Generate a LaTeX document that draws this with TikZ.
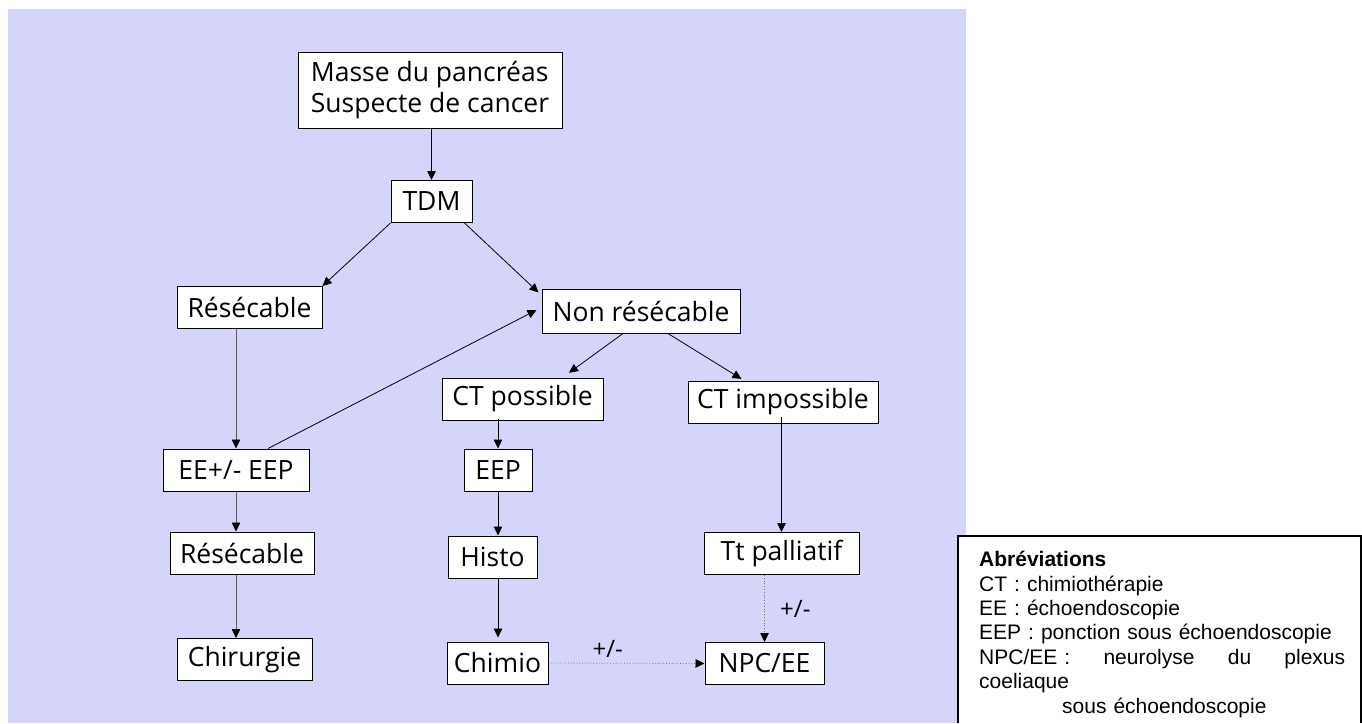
\documentclass[tikz,border=0pt]{standalone}
\usepackage{fontspec}
\usepackage{tikz}
\usetikzlibrary{arrows.meta}
\setmainfont{Open Sans}
\newfontfamily\arialfont{Liberation Sans}
\definecolor{lavande}{HTML}{D5D5FC}
\newcommand{\boxfont}{\fontsize{26.5}{31}\selectfont}
\newcommand{\signfont}{\fontsize{24}{28}\selectfont}
\newcommand{\legendtext}{\fontsize{21}{24.4}\selectfont\arialfont}
\tikzset{
  boite/.style={draw, fill=white, line width=1pt, inner sep=3pt,
                font=\boxfont, minimum height=42pt},
  fleche/.style={-{Triangle[length=9pt,width=8.5pt,color=black]}, line width=0.8pt},
  fine/.style={fleche, draw=black!65},
  pointille/.style={fleche, dotted, draw=black!55},
}

\begin{document}
\begin{tikzpicture}[x=1pt, y=-1pt]
\useasboundingbox (0,0) rectangle (1362,723);
\fill[lavande] (8,9) rectangle (966,723);

\node[boite, minimum width=264pt, minimum height=76pt, align=left] (masse) at (430,90)
  {Masse du pancréas\\Suspecte de cancer};
\node[boite, minimum width=81pt] (tdm) at (431.5,201.5) {TDM};
\node[boite, minimum width=145pt] (res1) at (249.5,307.5) {Résécable};
\node[boite, minimum width=198pt, minimum height=44pt] (nonres) at (641,311) {Non résécable};
\node[boite, minimum width=161pt] (ctpos) at (522.5,399) {CT possible};
\node[boite, minimum width=190pt] (ctimp) at (783,402) {CT impossible};
\node[boite, minimum width=146pt] (eeeep) at (236,470) {EE+/- EEP};
\node[boite, minimum width=144pt] (res2) at (242,553) {Résécable};
\node[boite, minimum width=135pt] (chir) at (244.5,659.5) {Chirurgie};
\node[boite, minimum width=68pt] (eep) at (498,470) {EEP};
\node[boite, minimum width=89pt] (histo) at (492.5,557) {Histo};
\node[boite, minimum width=101pt] (chimio) at (497.5,663) {Chimio};
\node[boite, minimum width=155pt] (pall) at (781.5,553.5) {Tt palliatif};
\node[boite, minimum width=119pt] (npc) at (764.5,663.5) {NPC/EE};

\draw[fleche] (masse.south -| tdm.north) -- (tdm.north);
\draw[fleche] (tdm.south west) -- (res1.north east);
\draw[fleche] ([xshift=-8pt]tdm.south east) -- ([shift={(-3pt,-4pt)}]nonres.north west);
\draw[fine] (res1.south -| eeeep.north) -- (eeeep.north);
\draw[fleche] ([xshift=32pt]eeeep.north) -- ([shift={(-5pt,1pt)}]nonres.west);
\draw[fleche, shorten >=8pt] ([xshift=-18pt]nonres.south) -- ([xshift=40pt]ctpos.north);
\draw[fleche, shorten >=3pt] ([xshift=27pt]nonres.south) -- ([xshift=-39pt]ctimp.north);
\draw[fleche] ([yshift=2pt]ctpos.south -| eep.north) -- (eep.north);
\draw[fleche] (eep.south) -- (eep.south |- histo.north);
\draw[fleche, shorten >=4pt] (histo.south -| eep.south) -- (eep.south |- chimio.north);
\draw[fleche] ([yshift=7pt]ctimp.south -| pall.north) -- (pall.north);
\draw[fine] (eeeep.south) -- (eeeep.south |- res2.north);
\draw[fine] (eeeep.south |- res2.south) -- (eeeep.south |- chir.north);
\draw[pointille] (pall.south -| npc.north) -- node[right=12pt, font=\signfont, text=black] (plusa) {+/-} (npc.north);
\draw[pointille] (chimio.east) -- node[pos=0.38, above=2pt, font=\signfont, text=black] (plusb) {+/-} (npc.west);

\fill[white] (958,536) rectangle (1361,723);
\draw[line width=1.6pt] (958,723) -- (958,536) -- (1361,536) -- (1361,723);
\node[anchor=north west, inner sep=0pt, text width=366pt, align=left, font=\legendtext] (legende) at (979,551)
  {{\bfseries Abréviations}\\
   CT : chimiothérapie\\
   EE : échoendoscopie\\
   EEP : ponction sous échoendoscopie\\
   \makebox[366pt][s]{NPC/EE :\hfill neurolyse\hfill du\hfill plexus}\\
   coeliaque\\
   \hspace*{83pt}sous échoendoscopie};
\end{tikzpicture}
\end{document}
